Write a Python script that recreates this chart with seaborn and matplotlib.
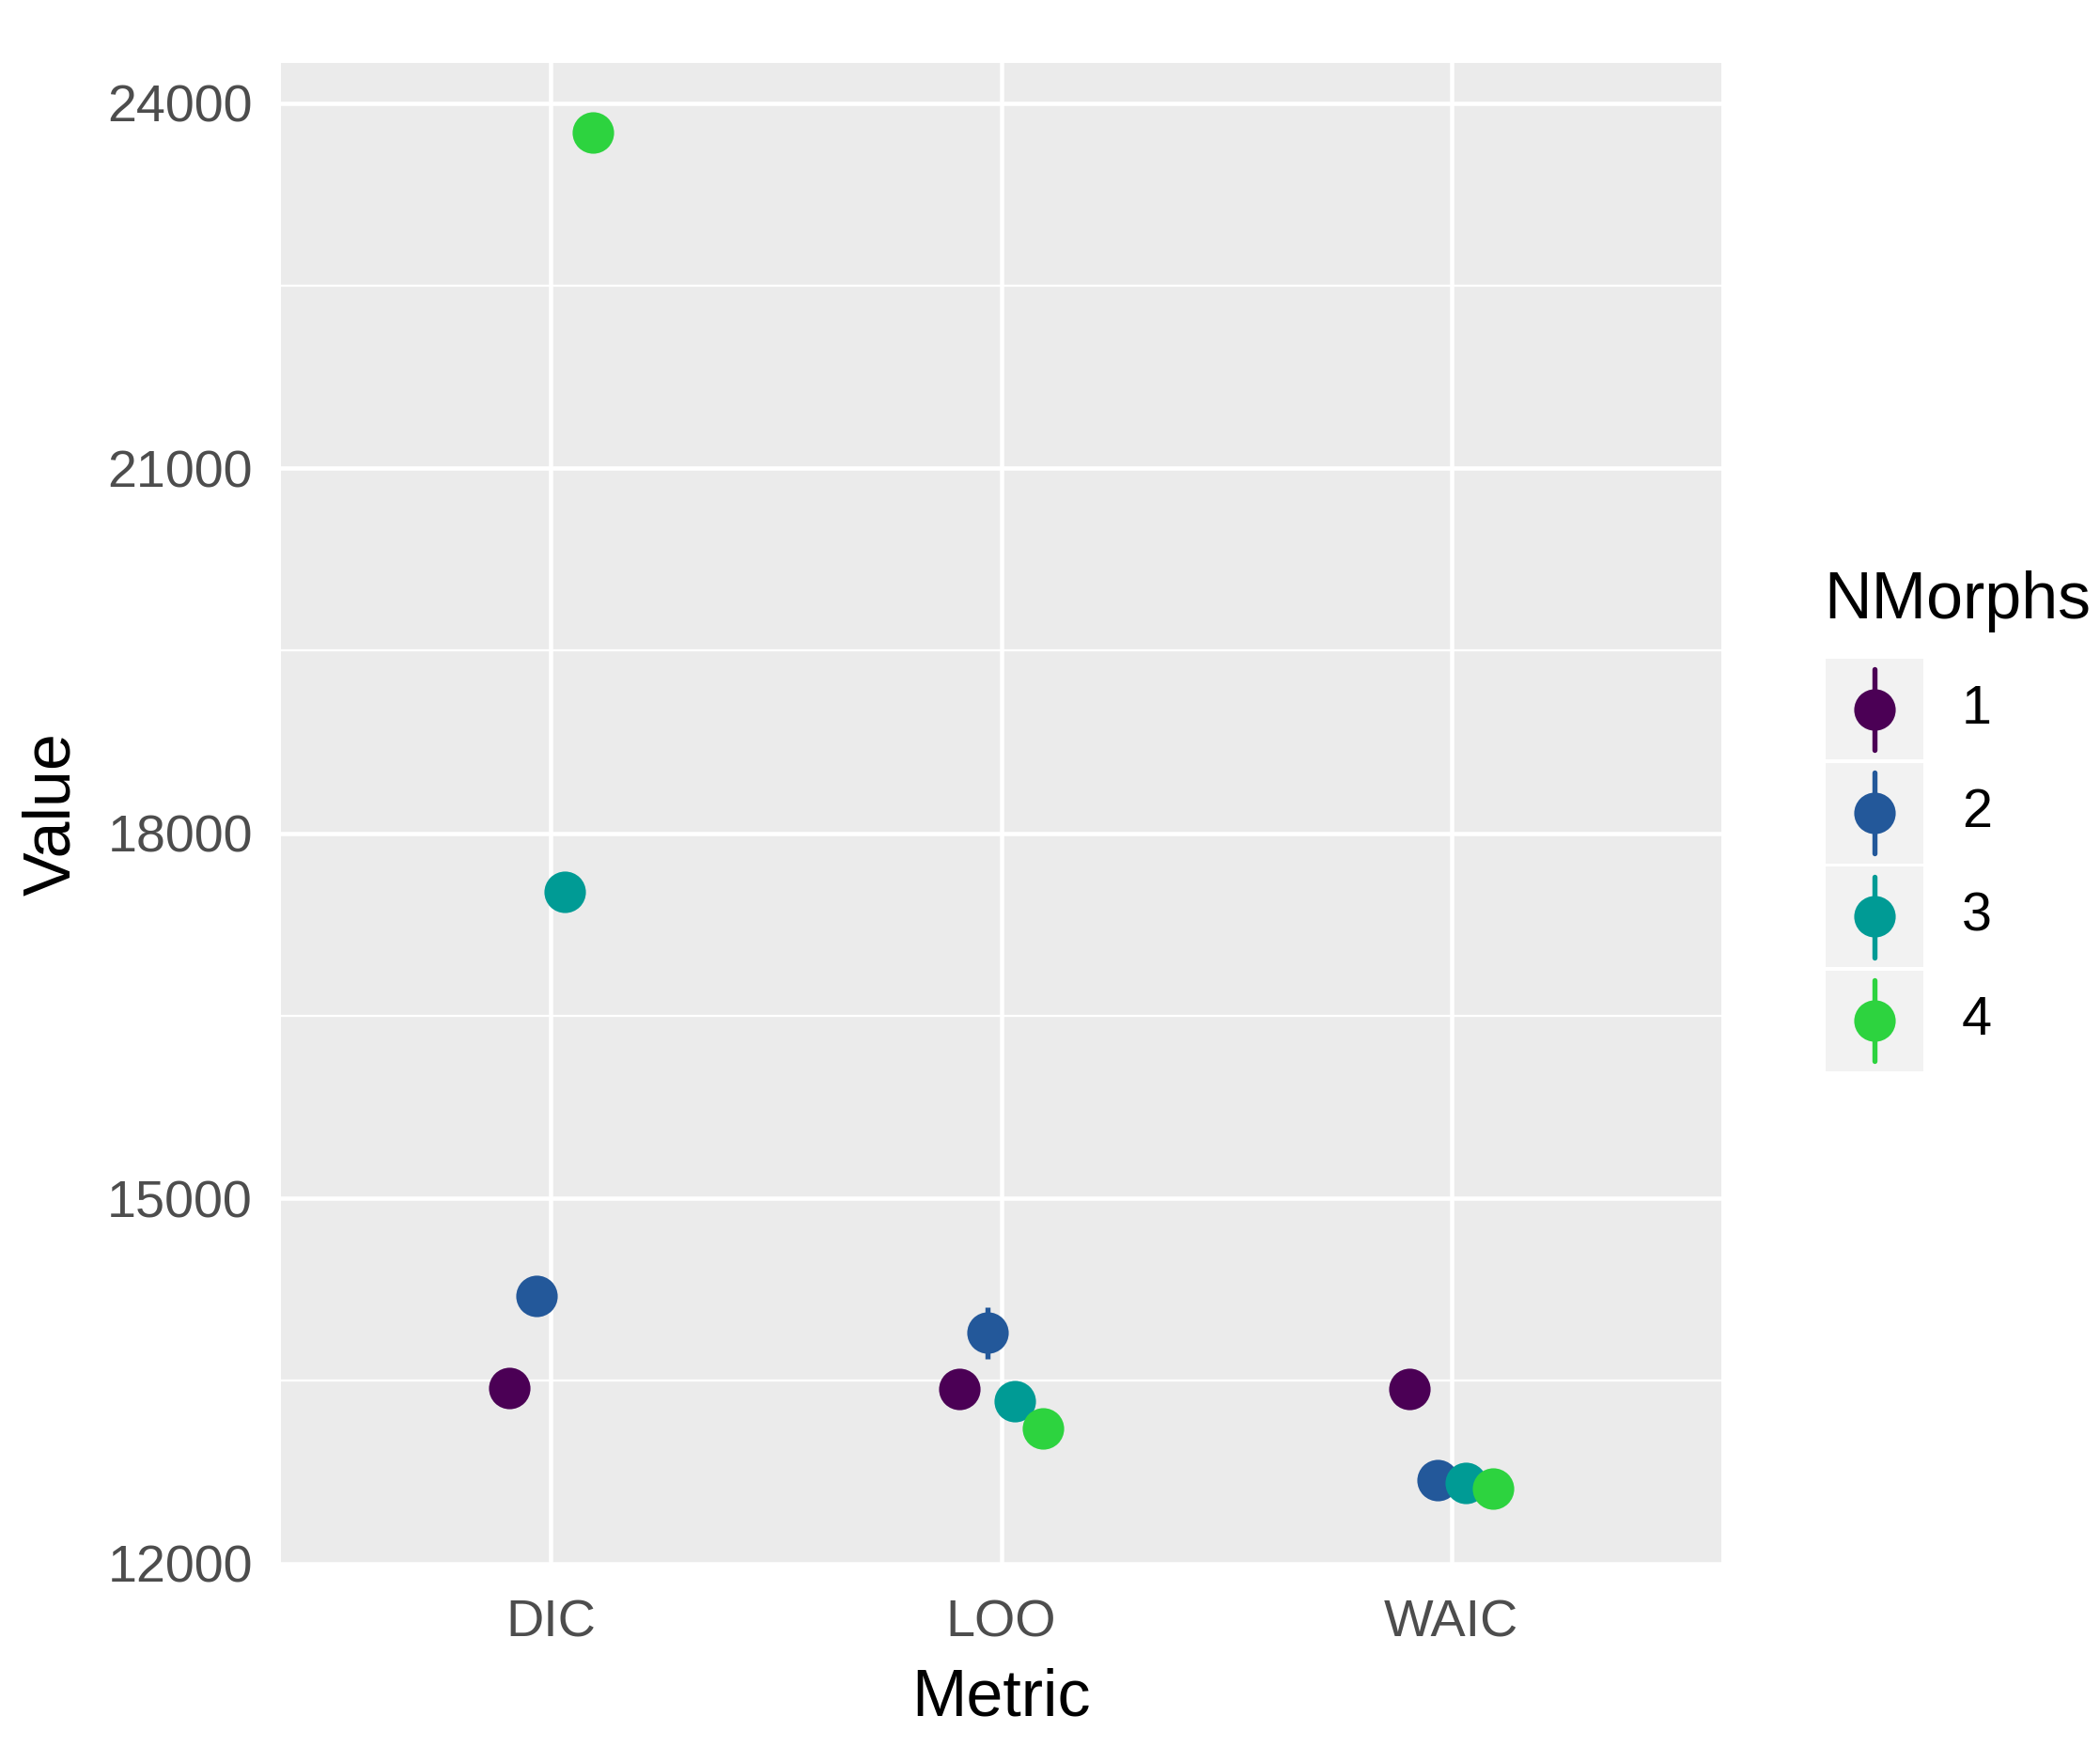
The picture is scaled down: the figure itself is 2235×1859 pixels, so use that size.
import numpy as np
import pandas as pd
import matplotlib
matplotlib.use("Agg")
import matplotlib.pyplot as plt
from matplotlib.patches import Rectangle
from matplotlib.lines import Line2D
import seaborn as sns

# ---------------- data ----------------
metrics = ["DIC", "LOO", "WAIC"]
nmorphs = ["1", "2", "3", "4"]
dic_values = [13442, 14202, 17516, 23758]
loo_values = [13431, 13894, 13332, 13112]
waic_values = [13431, 12683, 12661, 12617]
dic_err = [0, 0, 0, 0]
loo_err = [90, 215, 100, 110]
waic_err = [80, 90, 95, 100]
y_ticks = [12000, 15000, 18000, 21000, 24000]
y_minor = [13500, 16500, 19500, 22500]
colors = ["#4B0055", "#23589A", "#009B95", "#2DD33F"]

rows = []
for m, vals, errs in zip(metrics, [dic_values, loo_values, waic_values],
                         [dic_err, loo_err, waic_err]):
    for n, v, e in zip(nmorphs, vals, errs):
        rows.append({"Metric": m, "NMorphs": n, "Value": v,
                     "lo": v - e, "hi": v + e})
df = pd.DataFrame(rows)

# ---------------- figure ----------------
W, H, DPI = 2235, 1859, 300
sns.set_theme(style="white")
plt.rcParams["font.family"] = ["Liberation Sans", "DejaVu Sans"]

fig = plt.figure(figsize=(W / DPI, H / DPI), dpi=DPI)
L, R, T, B = 299, 1832, 67, 1665
ax = fig.add_axes([L / W, 1 - B / H, (R - L) / W, (B - T) / H])
ax.set_facecolor("#EBEBEB")

MS = 10.6
sns.pointplot(data=df, x="Metric", y="Value", hue="NMorphs",
              order=metrics, hue_order=nmorphs, palette=colors,
              dodge=0.1875, linestyle="none", errorbar=None,
              marker="o", markersize=MS, markeredgewidth=0,
              legend=False, ax=ax, zorder=3)

# error ranges at the positions seaborn assigned
pt_lines = [l for l in ax.lines if len(l.get_xdata()) == len(metrics)]
for line, n, c in zip(pt_lines, nmorphs, colors):
    xs = np.asarray(line.get_xdata(), dtype=float)
    sub = df[df["NMorphs"] == n].set_index("Metric").loc[metrics]
    ax.vlines(xs, sub["lo"].values, sub["hi"].values, color=c, lw=1.3, zorder=2.5)

ax.set_xlim(-0.6, 2.6)
ax.set_ylim(11990, 24330)
ax.set_yticks(y_ticks)
ax.set_yticklabels([str(t) for t in y_ticks])
ax.set_yticks(y_minor, minor=True)

ax.grid(which="major", color="white", lw=1.1)
ax.grid(which="minor", axis="y", color="white", lw=0.55)
ax.set_axisbelow(True)
for s in ax.spines.values():
    s.set_visible(False)

ax.tick_params(axis="both", which="major", length=2.7, width=0.9,
               color="#333333", labelsize=13.4, labelcolor="#4D4D4D", pad=4.5)
ax.tick_params(axis="y", which="minor", length=0)
ax.tick_params(axis="x", pad=6)

ax.set_xlabel("Metric", fontsize=16.8, color="black", labelpad=5)
ax.set_ylabel("Value", fontsize=16.8, color="black", labelpad=6)

# ---------------- legend (manual, ggplot-like) ----------------
def fx(x):
    return x / W

def fy(y):
    return 1 - y / H

fig.text(fx(1941), fy(658), "NMorphs", fontsize=16.8, color="black",
         ha="left", va="baseline")
key_top0, key_h, key_gap = 701, 107, 3.5
kx0, kx1 = 1943, 2047
for i, (n, c) in enumerate(zip(nmorphs, colors)):
    top = key_top0 + i * (key_h + key_gap)
    fig.patches.append(Rectangle((fx(kx0), fy(top + key_h)), fx(kx1 - kx0),
                                 (key_h) / H, transform=fig.transFigure,
                                 facecolor="#F2F2F2", edgecolor="none"))
    cy = top + key_h / 2
    cx = (kx0 + kx1) / 2
    fig.lines.append(Line2D([fx(cx), fx(cx)], [fy(cy - 43), fy(cy + 43)],
                            transform=fig.transFigure, color=c, lw=1.3))
    fig.lines.append(Line2D([fx(cx)], [fy(cy)], transform=fig.transFigure,
                            marker="o", markersize=MS, markeredgewidth=0,
                            color=c, linestyle="none"))
    fig.text(fx(2088), fy(cy), n, fontsize=13.8, color="black",
             ha="left", va="center")

fig.savefig("out.png", dpi=DPI, facecolor="white")
